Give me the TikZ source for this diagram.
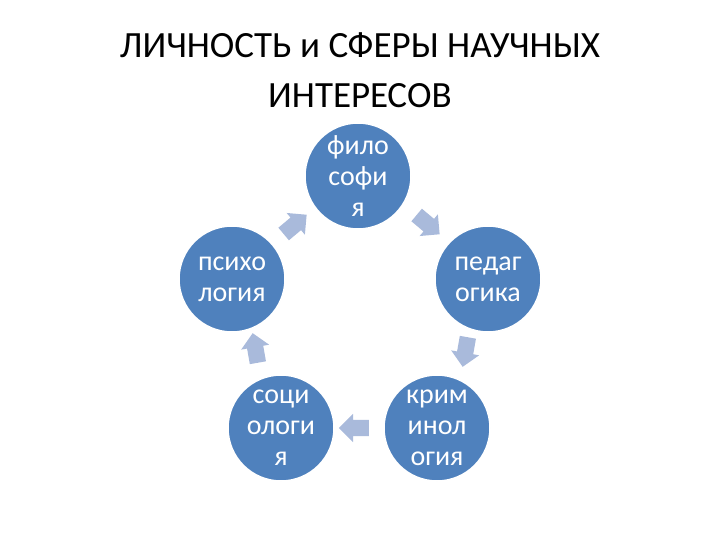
\documentclass[tikz,border=0pt]{standalone}
\usepackage{fontspec}
\setmainfont{Carlito}
\usetikzlibrary{shapes.arrows}
\definecolor{cblue}{HTML}{4F81BD}
\definecolor{ablue}{HTML}{A9BADB}
\begin{document}
\begin{tikzpicture}[x=1pt,y=-1pt,
 circ/.style={circle,fill=cblue,draw=white,line width=1.5pt,minimum size=106pt,inner sep=0pt,text=white,align=center,font=\fontsize{28}{31}\selectfont},
 barrow/.style={single arrow,fill=ablue,minimum height=30pt,minimum width=28pt,single arrow head extend=6pt,inner sep=8pt}]
\useasboundingbox (0,0) rectangle (720,540);
\node[font=\fontsize{37}{50}\selectfont,align=center] (title) at (360,70) {ЛИЧНОСТЬ и СФЕРЫ НАУЧНЫХ\\ИНТЕРЕСОВ};
\node[circ] (fil) at (358,176) {фило\\софи\\я};
\node[circ] (ped) at (488,279) {педаг\\огика};
\node[circ] (krim) at (437,428) {крим\\инол\\огия};
\node[circ] (soc) at (281,428) {соци\\ологи\\я};
\node[circ] (psy) at (232,279) {психо\\логия};
\node[barrow,rotate=-40] (a1) at (425,222) {};
\node[barrow,rotate=-100] (a2) at (466,348) {};
\node[barrow,rotate=180] (a3) at (358,428) {};
\node[barrow,rotate=100] (a4) at (256,352) {};
\node[barrow,rotate=40] (a5) at (292,227) {};
\end{tikzpicture}
\end{document}
